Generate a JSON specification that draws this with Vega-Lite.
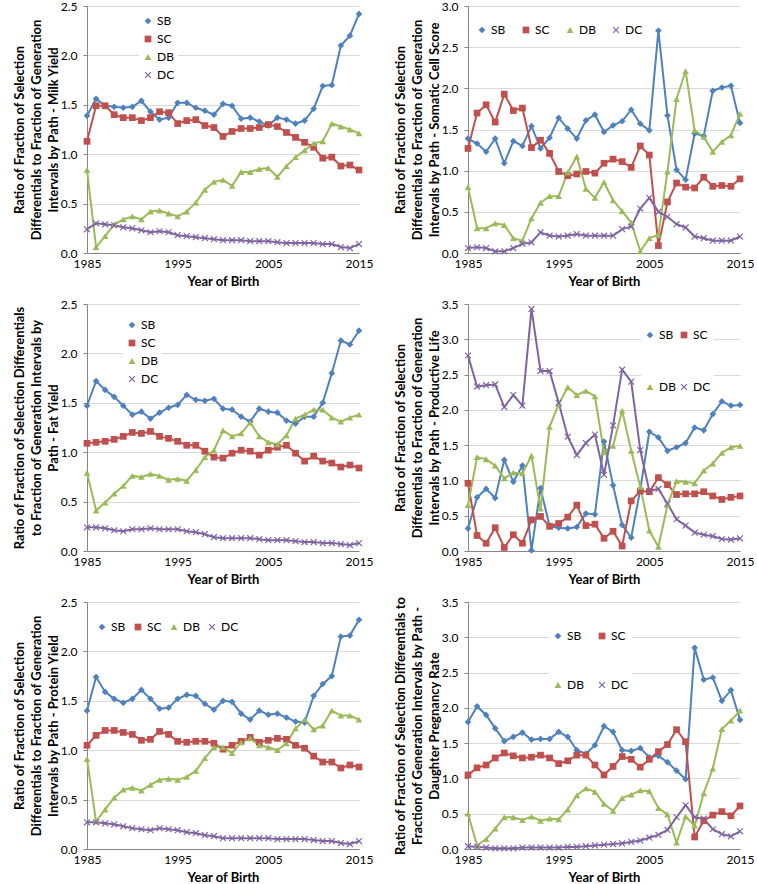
{
"$schema":"https://vega.github.io/schema/vega-lite/v6.json",
"padding":{"left":13,"top":0,"right":0,"bottom":0},
"config":{"font":"Lato","view":{"stroke":null},
"axis":{"labelFont":"Lato","labelFontSize":12,"labelColor":"#000","titleFont":"Lato","titleFontWeight":"bold","titleColor":"#000","domainColor":"#868686","tickColor":"#868686","gridColor":"#d9d9d9","labelFlush":false,"labelOverlap":false},
"axisX":{"grid":false,"ticks":false,"labelPadding":5,"titleFontSize":13,"titlePadding":6},
"axisY":{"tickSize":4,"labelPadding":6,"titleFontSize":13,"titleLineHeight":17,"titlePadding":0},
"legend":{"labelFont":"Lato","labelFontSize":12,"symbolSize":45,"fillColor":"white","padding":3,"labelOffset":3,"symbolStrokeWidth":0}},
"spacing":{"row":10,"column":21},
"columns":2,
"resolve":{"scale":{"x":"independent","y":"independent","color":"independent","shape":"independent"},"legend":{"color":"independent","shape":"independent"}},
"datasets":{
"milk":[
{"y":1985,"s":"SB","v":1.39},{"y":1986,"s":"SB","v":1.56},{"y":1987,"s":"SB","v":1.49},{"y":1988,"s":"SB","v":1.48},{"y":1989,"s":"SB","v":1.47},{"y":1990,"s":"SB","v":1.48},{"y":1991,"s":"SB","v":1.54},{"y":1992,"s":"SB","v":1.43},{"y":1993,"s":"SB","v":1.35},{"y":1994,"s":"SB","v":1.37},{"y":1995,"s":"SB","v":1.52},{"y":1996,"s":"SB","v":1.52},{"y":1997,"s":"SB","v":1.47},{"y":1998,"s":"SB","v":1.44},{"y":1999,"s":"SB","v":1.40},{"y":2000,"s":"SB","v":1.51},{"y":2001,"s":"SB","v":1.49},{"y":2002,"s":"SB","v":1.36},{"y":2003,"s":"SB","v":1.37},{"y":2004,"s":"SB","v":1.33},{"y":2005,"s":"SB","v":1.29},{"y":2006,"s":"SB","v":1.37},{"y":2007,"s":"SB","v":1.35},{"y":2008,"s":"SB","v":1.31},{"y":2009,"s":"SB","v":1.34},{"y":2010,"s":"SB","v":1.46},{"y":2011,"s":"SB","v":1.69},{"y":2012,"s":"SB","v":1.70},{"y":2013,"s":"SB","v":2.10},{"y":2014,"s":"SB","v":2.20},{"y":2015,"s":"SB","v":2.42},
{"y":1985,"s":"SC","v":1.13},{"y":1986,"s":"SC","v":1.49},{"y":1987,"s":"SC","v":1.49},{"y":1988,"s":"SC","v":1.40},{"y":1989,"s":"SC","v":1.37},{"y":1990,"s":"SC","v":1.37},{"y":1991,"s":"SC","v":1.34},{"y":1992,"s":"SC","v":1.37},{"y":1993,"s":"SC","v":1.43},{"y":1994,"s":"SC","v":1.42},{"y":1995,"s":"SC","v":1.31},{"y":1996,"s":"SC","v":1.34},{"y":1997,"s":"SC","v":1.35},{"y":1998,"s":"SC","v":1.29},{"y":1999,"s":"SC","v":1.27},{"y":2000,"s":"SC","v":1.18},{"y":2001,"s":"SC","v":1.23},{"y":2002,"s":"SC","v":1.26},{"y":2003,"s":"SC","v":1.26},{"y":2004,"s":"SC","v":1.27},{"y":2005,"s":"SC","v":1.30},{"y":2006,"s":"SC","v":1.28},{"y":2007,"s":"SC","v":1.22},{"y":2008,"s":"SC","v":1.17},{"y":2009,"s":"SC","v":1.12},{"y":2010,"s":"SC","v":1.07},{"y":2011,"s":"SC","v":0.96},{"y":2012,"s":"SC","v":0.97},{"y":2013,"s":"SC","v":0.88},{"y":2014,"s":"SC","v":0.89},{"y":2015,"s":"SC","v":0.84},
{"y":1985,"s":"DB","v":0.84},{"y":1986,"s":"DB","v":0.06},{"y":1987,"s":"DB","v":0.17},{"y":1988,"s":"DB","v":0.29},{"y":1989,"s":"DB","v":0.34},{"y":1990,"s":"DB","v":0.37},{"y":1991,"s":"DB","v":0.34},{"y":1992,"s":"DB","v":0.42},{"y":1993,"s":"DB","v":0.43},{"y":1994,"s":"DB","v":0.40},{"y":1995,"s":"DB","v":0.37},{"y":1996,"s":"DB","v":0.42},{"y":1997,"s":"DB","v":0.51},{"y":1998,"s":"DB","v":0.64},{"y":1999,"s":"DB","v":0.72},{"y":2000,"s":"DB","v":0.74},{"y":2001,"s":"DB","v":0.68},{"y":2002,"s":"DB","v":0.82},{"y":2003,"s":"DB","v":0.82},{"y":2004,"s":"DB","v":0.85},{"y":2005,"s":"DB","v":0.86},{"y":2006,"s":"DB","v":0.77},{"y":2007,"s":"DB","v":0.88},{"y":2008,"s":"DB","v":0.97},{"y":2009,"s":"DB","v":1.04},{"y":2010,"s":"DB","v":1.11},{"y":2011,"s":"DB","v":1.13},{"y":2012,"s":"DB","v":1.31},{"y":2013,"s":"DB","v":1.28},{"y":2014,"s":"DB","v":1.25},{"y":2015,"s":"DB","v":1.21},
{"y":1985,"s":"DC","v":0.24},{"y":1986,"s":"DC","v":0.30},{"y":1987,"s":"DC","v":0.29},{"y":1988,"s":"DC","v":0.28},{"y":1989,"s":"DC","v":0.26},{"y":1990,"s":"DC","v":0.25},{"y":1991,"s":"DC","v":0.23},{"y":1992,"s":"DC","v":0.21},{"y":1993,"s":"DC","v":0.22},{"y":1994,"s":"DC","v":0.21},{"y":1995,"s":"DC","v":0.18},{"y":1996,"s":"DC","v":0.17},{"y":1997,"s":"DC","v":0.16},{"y":1998,"s":"DC","v":0.15},{"y":1999,"s":"DC","v":0.14},{"y":2000,"s":"DC","v":0.13},{"y":2001,"s":"DC","v":0.13},{"y":2002,"s":"DC","v":0.13},{"y":2003,"s":"DC","v":0.12},{"y":2004,"s":"DC","v":0.12},{"y":2005,"s":"DC","v":0.12},{"y":2006,"s":"DC","v":0.11},{"y":2007,"s":"DC","v":0.10},{"y":2008,"s":"DC","v":0.10},{"y":2009,"s":"DC","v":0.10},{"y":2010,"s":"DC","v":0.10},{"y":2011,"s":"DC","v":0.09},{"y":2012,"s":"DC","v":0.09},{"y":2013,"s":"DC","v":0.06},{"y":2014,"s":"DC","v":0.05},{"y":2015,"s":"DC","v":0.09}],
"scs":[
{"y":1985,"s":"SB","v":1.39},{"y":1986,"s":"SB","v":1.33},{"y":1987,"s":"SB","v":1.23},{"y":1988,"s":"SB","v":1.39},{"y":1989,"s":"SB","v":1.09},{"y":1990,"s":"SB","v":1.36},{"y":1991,"s":"SB","v":1.30},{"y":1992,"s":"SB","v":1.54},{"y":1993,"s":"SB","v":1.27},{"y":1994,"s":"SB","v":1.40},{"y":1995,"s":"SB","v":1.64},{"y":1996,"s":"SB","v":1.51},{"y":1997,"s":"SB","v":1.39},{"y":1998,"s":"SB","v":1.61},{"y":1999,"s":"SB","v":1.68},{"y":2000,"s":"SB","v":1.47},{"y":2001,"s":"SB","v":1.55},{"y":2002,"s":"SB","v":1.60},{"y":2003,"s":"SB","v":1.74},{"y":2004,"s":"SB","v":1.57},{"y":2005,"s":"SB","v":1.49},{"y":2006,"s":"SB","v":2.70},{"y":2007,"s":"SB","v":1.67},{"y":2008,"s":"SB","v":1.01},{"y":2009,"s":"SB","v":0.89},{"y":2010,"s":"SB","v":1.45},{"y":2011,"s":"SB","v":1.42},{"y":2012,"s":"SB","v":1.97},{"y":2013,"s":"SB","v":2.01},{"y":2014,"s":"SB","v":2.03},{"y":2015,"s":"SB","v":1.58},
{"y":1985,"s":"SC","v":1.27},{"y":1986,"s":"SC","v":1.70},{"y":1987,"s":"SC","v":1.80},{"y":1988,"s":"SC","v":1.59},{"y":1989,"s":"SC","v":1.93},{"y":1990,"s":"SC","v":1.73},{"y":1991,"s":"SC","v":1.76},{"y":1992,"s":"SC","v":1.28},{"y":1993,"s":"SC","v":1.37},{"y":1994,"s":"SC","v":1.21},{"y":1995,"s":"SC","v":0.99},{"y":1996,"s":"SC","v":0.94},{"y":1997,"s":"SC","v":0.96},{"y":1998,"s":"SC","v":0.99},{"y":1999,"s":"SC","v":0.97},{"y":2000,"s":"SC","v":1.09},{"y":2001,"s":"SC","v":1.14},{"y":2002,"s":"SC","v":1.11},{"y":2003,"s":"SC","v":1.04},{"y":2004,"s":"SC","v":1.30},{"y":2005,"s":"SC","v":1.19},{"y":2006,"s":"SC","v":0.09},{"y":2007,"s":"SC","v":0.62},{"y":2008,"s":"SC","v":0.85},{"y":2009,"s":"SC","v":0.80},{"y":2010,"s":"SC","v":0.79},{"y":2011,"s":"SC","v":0.92},{"y":2012,"s":"SC","v":0.81},{"y":2013,"s":"SC","v":0.82},{"y":2014,"s":"SC","v":0.81},{"y":2015,"s":"SC","v":0.90},
{"y":1985,"s":"DB","v":0.80},{"y":1986,"s":"DB","v":0.30},{"y":1987,"s":"DB","v":0.30},{"y":1988,"s":"DB","v":0.36},{"y":1989,"s":"DB","v":0.34},{"y":1990,"s":"DB","v":0.18},{"y":1991,"s":"DB","v":0.15},{"y":1992,"s":"DB","v":0.42},{"y":1993,"s":"DB","v":0.61},{"y":1994,"s":"DB","v":0.69},{"y":1995,"s":"DB","v":0.69},{"y":1996,"s":"DB","v":0.98},{"y":1997,"s":"DB","v":1.17},{"y":1998,"s":"DB","v":0.78},{"y":1999,"s":"DB","v":0.67},{"y":2000,"s":"DB","v":0.86},{"y":2001,"s":"DB","v":0.64},{"y":2002,"s":"DB","v":0.51},{"y":2003,"s":"DB","v":0.37},{"y":2004,"s":"DB","v":0.02},{"y":2005,"s":"DB","v":0.18},{"y":2006,"s":"DB","v":0.22},{"y":2007,"s":"DB","v":0.99},{"y":2008,"s":"DB","v":1.87},{"y":2009,"s":"DB","v":2.21},{"y":2010,"s":"DB","v":1.49},{"y":2011,"s":"DB","v":1.41},{"y":2012,"s":"DB","v":1.23},{"y":2013,"s":"DB","v":1.35},{"y":2014,"s":"DB","v":1.43},{"y":2015,"s":"DB","v":1.69},
{"y":1985,"s":"DC","v":0.06},{"y":1986,"s":"DC","v":0.07},{"y":1987,"s":"DC","v":0.06},{"y":1988,"s":"DC","v":0.02},{"y":1989,"s":"DC","v":0.02},{"y":1990,"s":"DC","v":0.06},{"y":1991,"s":"DC","v":0.11},{"y":1992,"s":"DC","v":0.13},{"y":1993,"s":"DC","v":0.25},{"y":1994,"s":"DC","v":0.21},{"y":1995,"s":"DC","v":0.20},{"y":1996,"s":"DC","v":0.21},{"y":1997,"s":"DC","v":0.23},{"y":1998,"s":"DC","v":0.21},{"y":1999,"s":"DC","v":0.21},{"y":2000,"s":"DC","v":0.21},{"y":2001,"s":"DC","v":0.21},{"y":2002,"s":"DC","v":0.29},{"y":2003,"s":"DC","v":0.32},{"y":2004,"s":"DC","v":0.54},{"y":2005,"s":"DC","v":0.67},{"y":2006,"s":"DC","v":0.50},{"y":2007,"s":"DC","v":0.44},{"y":2008,"s":"DC","v":0.35},{"y":2009,"s":"DC","v":0.31},{"y":2010,"s":"DC","v":0.20},{"y":2011,"s":"DC","v":0.18},{"y":2012,"s":"DC","v":0.15},{"y":2013,"s":"DC","v":0.15},{"y":2014,"s":"DC","v":0.15},{"y":2015,"s":"DC","v":0.20}],
"fat":[
{"y":1985,"s":"SB","v":1.47},{"y":1986,"s":"SB","v":1.72},{"y":1987,"s":"SB","v":1.63},{"y":1988,"s":"SB","v":1.56},{"y":1989,"s":"SB","v":1.47},{"y":1990,"s":"SB","v":1.38},{"y":1991,"s":"SB","v":1.41},{"y":1992,"s":"SB","v":1.34},{"y":1993,"s":"SB","v":1.40},{"y":1994,"s":"SB","v":1.45},{"y":1995,"s":"SB","v":1.48},{"y":1996,"s":"SB","v":1.58},{"y":1997,"s":"SB","v":1.53},{"y":1998,"s":"SB","v":1.52},{"y":1999,"s":"SB","v":1.54},{"y":2000,"s":"SB","v":1.44},{"y":2001,"s":"SB","v":1.43},{"y":2002,"s":"SB","v":1.36},{"y":2003,"s":"SB","v":1.31},{"y":2004,"s":"SB","v":1.44},{"y":2005,"s":"SB","v":1.41},{"y":2006,"s":"SB","v":1.40},{"y":2007,"s":"SB","v":1.32},{"y":2008,"s":"SB","v":1.29},{"y":2009,"s":"SB","v":1.36},{"y":2010,"s":"SB","v":1.36},{"y":2011,"s":"SB","v":1.50},{"y":2012,"s":"SB","v":1.80},{"y":2013,"s":"SB","v":2.13},{"y":2014,"s":"SB","v":2.09},{"y":2015,"s":"SB","v":2.23},
{"y":1985,"s":"SC","v":1.09},{"y":1986,"s":"SC","v":1.10},{"y":1987,"s":"SC","v":1.11},{"y":1988,"s":"SC","v":1.13},{"y":1989,"s":"SC","v":1.16},{"y":1990,"s":"SC","v":1.20},{"y":1991,"s":"SC","v":1.19},{"y":1992,"s":"SC","v":1.21},{"y":1993,"s":"SC","v":1.16},{"y":1994,"s":"SC","v":1.14},{"y":1995,"s":"SC","v":1.11},{"y":1996,"s":"SC","v":1.07},{"y":1997,"s":"SC","v":1.07},{"y":1998,"s":"SC","v":1.01},{"y":1999,"s":"SC","v":0.95},{"y":2000,"s":"SC","v":0.94},{"y":2001,"s":"SC","v":0.99},{"y":2002,"s":"SC","v":1.02},{"y":2003,"s":"SC","v":1.01},{"y":2004,"s":"SC","v":0.97},{"y":2005,"s":"SC","v":1.02},{"y":2006,"s":"SC","v":1.05},{"y":2007,"s":"SC","v":1.07},{"y":2008,"s":"SC","v":0.99},{"y":2009,"s":"SC","v":0.91},{"y":2010,"s":"SC","v":0.96},{"y":2011,"s":"SC","v":0.91},{"y":2012,"s":"SC","v":0.89},{"y":2013,"s":"SC","v":0.85},{"y":2014,"s":"SC","v":0.87},{"y":2015,"s":"SC","v":0.84},
{"y":1985,"s":"DB","v":0.79},{"y":1986,"s":"DB","v":0.41},{"y":1987,"s":"DB","v":0.49},{"y":1988,"s":"DB","v":0.58},{"y":1989,"s":"DB","v":0.66},{"y":1990,"s":"DB","v":0.76},{"y":1991,"s":"DB","v":0.75},{"y":1992,"s":"DB","v":0.78},{"y":1993,"s":"DB","v":0.76},{"y":1994,"s":"DB","v":0.72},{"y":1995,"s":"DB","v":0.73},{"y":1996,"s":"DB","v":0.71},{"y":1997,"s":"DB","v":0.82},{"y":1998,"s":"DB","v":0.95},{"y":1999,"s":"DB","v":1.02},{"y":2000,"s":"DB","v":1.22},{"y":2001,"s":"DB","v":1.16},{"y":2002,"s":"DB","v":1.19},{"y":2003,"s":"DB","v":1.30},{"y":2004,"s":"DB","v":1.16},{"y":2005,"s":"DB","v":1.10},{"y":2006,"s":"DB","v":1.08},{"y":2007,"s":"DB","v":1.17},{"y":2008,"s":"DB","v":1.34},{"y":2009,"s":"DB","v":1.38},{"y":2010,"s":"DB","v":1.43},{"y":2011,"s":"DB","v":1.43},{"y":2012,"s":"DB","v":1.35},{"y":2013,"s":"DB","v":1.31},{"y":2014,"s":"DB","v":1.35},{"y":2015,"s":"DB","v":1.38},
{"y":1985,"s":"DC","v":0.24},{"y":1986,"s":"DC","v":0.24},{"y":1987,"s":"DC","v":0.23},{"y":1988,"s":"DC","v":0.21},{"y":1989,"s":"DC","v":0.20},{"y":1990,"s":"DC","v":0.22},{"y":1991,"s":"DC","v":0.22},{"y":1992,"s":"DC","v":0.23},{"y":1993,"s":"DC","v":0.22},{"y":1994,"s":"DC","v":0.22},{"y":1995,"s":"DC","v":0.22},{"y":1996,"s":"DC","v":0.20},{"y":1997,"s":"DC","v":0.19},{"y":1998,"s":"DC","v":0.17},{"y":1999,"s":"DC","v":0.14},{"y":2000,"s":"DC","v":0.13},{"y":2001,"s":"DC","v":0.13},{"y":2002,"s":"DC","v":0.13},{"y":2003,"s":"DC","v":0.13},{"y":2004,"s":"DC","v":0.12},{"y":2005,"s":"DC","v":0.11},{"y":2006,"s":"DC","v":0.11},{"y":2007,"s":"DC","v":0.11},{"y":2008,"s":"DC","v":0.10},{"y":2009,"s":"DC","v":0.09},{"y":2010,"s":"DC","v":0.09},{"y":2011,"s":"DC","v":0.08},{"y":2012,"s":"DC","v":0.08},{"y":2013,"s":"DC","v":0.07},{"y":2014,"s":"DC","v":0.06},{"y":2015,"s":"DC","v":0.08}],
"pl":[
{"y":1985,"s":"SB","v":0.32},{"y":1986,"s":"SB","v":0.76},{"y":1987,"s":"SB","v":0.88},{"y":1988,"s":"SB","v":0.75},{"y":1989,"s":"SB","v":1.29},{"y":1990,"s":"SB","v":0.98},{"y":1991,"s":"SB","v":1.21},{"y":1992,"s":"SB","v":0.01},{"y":1993,"s":"SB","v":0.89},{"y":1994,"s":"SB","v":0.35},{"y":1995,"s":"SB","v":0.33},{"y":1996,"s":"SB","v":0.32},{"y":1997,"s":"SB","v":0.34},{"y":1998,"s":"SB","v":0.53},{"y":1999,"s":"SB","v":0.52},{"y":2000,"s":"SB","v":1.55},{"y":2001,"s":"SB","v":0.93},{"y":2002,"s":"SB","v":0.37},{"y":2003,"s":"SB","v":0.19},{"y":2004,"s":"SB","v":0.87},{"y":2005,"s":"SB","v":1.69},{"y":2006,"s":"SB","v":1.61},{"y":2007,"s":"SB","v":1.42},{"y":2008,"s":"SB","v":1.47},{"y":2009,"s":"SB","v":1.53},{"y":2010,"s":"SB","v":1.75},{"y":2011,"s":"SB","v":1.71},{"y":2012,"s":"SB","v":1.94},{"y":2013,"s":"SB","v":2.12},{"y":2014,"s":"SB","v":2.06},{"y":2015,"s":"SB","v":2.07},
{"y":1985,"s":"SC","v":0.96},{"y":1986,"s":"SC","v":0.22},{"y":1987,"s":"SC","v":0.11},{"y":1988,"s":"SC","v":0.33},{"y":1989,"s":"SC","v":0.05},{"y":1990,"s":"SC","v":0.23},{"y":1991,"s":"SC","v":0.11},{"y":1992,"s":"SC","v":0.44},{"y":1993,"s":"SC","v":0.49},{"y":1994,"s":"SC","v":0.35},{"y":1995,"s":"SC","v":0.39},{"y":1996,"s":"SC","v":0.48},{"y":1997,"s":"SC","v":0.65},{"y":1998,"s":"SC","v":0.36},{"y":1999,"s":"SC","v":0.38},{"y":2000,"s":"SC","v":0.18},{"y":2001,"s":"SC","v":0.28},{"y":2002,"s":"SC","v":0.07},{"y":2003,"s":"SC","v":0.71},{"y":2004,"s":"SC","v":0.85},{"y":2005,"s":"SC","v":0.84},{"y":2006,"s":"SC","v":1.04},{"y":2007,"s":"SC","v":0.94},{"y":2008,"s":"SC","v":0.80},{"y":2009,"s":"SC","v":0.81},{"y":2010,"s":"SC","v":0.81},{"y":2011,"s":"SC","v":0.84},{"y":2012,"s":"SC","v":0.78},{"y":2013,"s":"SC","v":0.73},{"y":2014,"s":"SC","v":0.76},{"y":2015,"s":"SC","v":0.78},
{"y":1985,"s":"DB","v":0.65},{"y":1986,"s":"DB","v":1.33},{"y":1987,"s":"DB","v":1.30},{"y":1988,"s":"DB","v":1.21},{"y":1989,"s":"DB","v":1.03},{"y":1990,"s":"DB","v":1.11},{"y":1991,"s":"DB","v":1.10},{"y":1992,"s":"DB","v":1.35},{"y":1993,"s":"DB","v":0.60},{"y":1994,"s":"DB","v":1.76},{"y":1995,"s":"DB","v":2.08},{"y":1996,"s":"DB","v":2.32},{"y":1997,"s":"DB","v":2.21},{"y":1998,"s":"DB","v":2.27},{"y":1999,"s":"DB","v":2.19},{"y":2000,"s":"DB","v":1.40},{"y":2001,"s":"DB","v":1.49},{"y":2002,"s":"DB","v":1.99},{"y":2003,"s":"DB","v":1.42},{"y":2004,"s":"DB","v":0.91},{"y":2005,"s":"DB","v":0.29},{"y":2006,"s":"DB","v":0.06},{"y":2007,"s":"DB","v":0.65},{"y":2008,"s":"DB","v":0.99},{"y":2009,"s":"DB","v":0.98},{"y":2010,"s":"DB","v":0.96},{"y":2011,"s":"DB","v":1.14},{"y":2012,"s":"DB","v":1.24},{"y":2013,"s":"DB","v":1.39},{"y":2014,"s":"DB","v":1.47},{"y":2015,"s":"DB","v":1.49},
{"y":1985,"s":"DC","v":2.77},{"y":1986,"s":"DC","v":2.33},{"y":1987,"s":"DC","v":2.35},{"y":1988,"s":"DC","v":2.36},{"y":1989,"s":"DC","v":2.04},{"y":1990,"s":"DC","v":2.21},{"y":1991,"s":"DC","v":2.06},{"y":1992,"s":"DC","v":3.43},{"y":1993,"s":"DC","v":2.55},{"y":1994,"s":"DC","v":2.55},{"y":1995,"s":"DC","v":2.10},{"y":1996,"s":"DC","v":1.62},{"y":1997,"s":"DC","v":1.36},{"y":1998,"s":"DC","v":1.53},{"y":1999,"s":"DC","v":1.65},{"y":2000,"s":"DC","v":1.08},{"y":2001,"s":"DC","v":1.78},{"y":2002,"s":"DC","v":2.57},{"y":2003,"s":"DC","v":2.40},{"y":2004,"s":"DC","v":1.43},{"y":2005,"s":"DC","v":0.85},{"y":2006,"s":"DC","v":0.88},{"y":2007,"s":"DC","v":0.67},{"y":2008,"s":"DC","v":0.45},{"y":2009,"s":"DC","v":0.36},{"y":2010,"s":"DC","v":0.26},{"y":2011,"s":"DC","v":0.23},{"y":2012,"s":"DC","v":0.21},{"y":2013,"s":"DC","v":0.17},{"y":2014,"s":"DC","v":0.16},{"y":2015,"s":"DC","v":0.18}],
"prot":[
{"y":1985,"s":"SB","v":1.40},{"y":1986,"s":"SB","v":1.74},{"y":1987,"s":"SB","v":1.59},{"y":1988,"s":"SB","v":1.52},{"y":1989,"s":"SB","v":1.48},{"y":1990,"s":"SB","v":1.52},{"y":1991,"s":"SB","v":1.61},{"y":1992,"s":"SB","v":1.52},{"y":1993,"s":"SB","v":1.42},{"y":1994,"s":"SB","v":1.43},{"y":1995,"s":"SB","v":1.52},{"y":1996,"s":"SB","v":1.56},{"y":1997,"s":"SB","v":1.55},{"y":1998,"s":"SB","v":1.47},{"y":1999,"s":"SB","v":1.41},{"y":2000,"s":"SB","v":1.50},{"y":2001,"s":"SB","v":1.49},{"y":2002,"s":"SB","v":1.37},{"y":2003,"s":"SB","v":1.31},{"y":2004,"s":"SB","v":1.40},{"y":2005,"s":"SB","v":1.36},{"y":2006,"s":"SB","v":1.37},{"y":2007,"s":"SB","v":1.33},{"y":2008,"s":"SB","v":1.29},{"y":2009,"s":"SB","v":1.28},{"y":2010,"s":"SB","v":1.55},{"y":2011,"s":"SB","v":1.67},{"y":2012,"s":"SB","v":1.75},{"y":2013,"s":"SB","v":2.15},{"y":2014,"s":"SB","v":2.16},{"y":2015,"s":"SB","v":2.32},
{"y":1985,"s":"SC","v":1.05},{"y":1986,"s":"SC","v":1.15},{"y":1987,"s":"SC","v":1.20},{"y":1988,"s":"SC","v":1.20},{"y":1989,"s":"SC","v":1.18},{"y":1990,"s":"SC","v":1.16},{"y":1991,"s":"SC","v":1.10},{"y":1992,"s":"SC","v":1.11},{"y":1993,"s":"SC","v":1.19},{"y":1994,"s":"SC","v":1.16},{"y":1995,"s":"SC","v":1.09},{"y":1996,"s":"SC","v":1.08},{"y":1997,"s":"SC","v":1.09},{"y":1998,"s":"SC","v":1.09},{"y":1999,"s":"SC","v":1.07},{"y":2000,"s":"SC","v":1.01},{"y":2001,"s":"SC","v":1.05},{"y":2002,"s":"SC","v":1.09},{"y":2003,"s":"SC","v":1.13},{"y":2004,"s":"SC","v":1.08},{"y":2005,"s":"SC","v":1.10},{"y":2006,"s":"SC","v":1.12},{"y":2007,"s":"SC","v":1.11},{"y":2008,"s":"SC","v":1.05},{"y":2009,"s":"SC","v":1.02},{"y":2010,"s":"SC","v":0.94},{"y":2011,"s":"SC","v":0.88},{"y":2012,"s":"SC","v":0.88},{"y":2013,"s":"SC","v":0.82},{"y":2014,"s":"SC","v":0.85},{"y":2015,"s":"SC","v":0.83},
{"y":1985,"s":"DB","v":0.91},{"y":1986,"s":"DB","v":0.28},{"y":1987,"s":"DB","v":0.40},{"y":1988,"s":"DB","v":0.52},{"y":1989,"s":"DB","v":0.60},{"y":1990,"s":"DB","v":0.62},{"y":1991,"s":"DB","v":0.59},{"y":1992,"s":"DB","v":0.65},{"y":1993,"s":"DB","v":0.70},{"y":1994,"s":"DB","v":0.71},{"y":1995,"s":"DB","v":0.70},{"y":1996,"s":"DB","v":0.73},{"y":1997,"s":"DB","v":0.79},{"y":1998,"s":"DB","v":0.92},{"y":1999,"s":"DB","v":1.03},{"y":2000,"s":"DB","v":1.03},{"y":2001,"s":"DB","v":0.97},{"y":2002,"s":"DB","v":1.08},{"y":2003,"s":"DB","v":1.12},{"y":2004,"s":"DB","v":1.05},{"y":2005,"s":"DB","v":1.03},{"y":2006,"s":"DB","v":1.00},{"y":2007,"s":"DB","v":1.07},{"y":2008,"s":"DB","v":1.22},{"y":2009,"s":"DB","v":1.31},{"y":2010,"s":"DB","v":1.21},{"y":2011,"s":"DB","v":1.25},{"y":2012,"s":"DB","v":1.40},{"y":2013,"s":"DB","v":1.35},{"y":2014,"s":"DB","v":1.35},{"y":2015,"s":"DB","v":1.31},
{"y":1985,"s":"DC","v":0.27},{"y":1986,"s":"DC","v":0.27},{"y":1987,"s":"DC","v":0.26},{"y":1988,"s":"DC","v":0.25},{"y":1989,"s":"DC","v":0.23},{"y":1990,"s":"DC","v":0.21},{"y":1991,"s":"DC","v":0.20},{"y":1992,"s":"DC","v":0.19},{"y":1993,"s":"DC","v":0.21},{"y":1994,"s":"DC","v":0.20},{"y":1995,"s":"DC","v":0.19},{"y":1996,"s":"DC","v":0.17},{"y":1997,"s":"DC","v":0.16},{"y":1998,"s":"DC","v":0.14},{"y":1999,"s":"DC","v":0.13},{"y":2000,"s":"DC","v":0.11},{"y":2001,"s":"DC","v":0.11},{"y":2002,"s":"DC","v":0.11},{"y":2003,"s":"DC","v":0.11},{"y":2004,"s":"DC","v":0.11},{"y":2005,"s":"DC","v":0.11},{"y":2006,"s":"DC","v":0.10},{"y":2007,"s":"DC","v":0.10},{"y":2008,"s":"DC","v":0.10},{"y":2009,"s":"DC","v":0.10},{"y":2010,"s":"DC","v":0.09},{"y":2011,"s":"DC","v":0.08},{"y":2012,"s":"DC","v":0.08},{"y":2013,"s":"DC","v":0.06},{"y":2014,"s":"DC","v":0.05},{"y":2015,"s":"DC","v":0.08}],
"dpr":[
{"y":1985,"s":"SB","v":1.80},{"y":1986,"s":"SB","v":2.02},{"y":1987,"s":"SB","v":1.90},{"y":1988,"s":"SB","v":1.71},{"y":1989,"s":"SB","v":1.53},{"y":1990,"s":"SB","v":1.59},{"y":1991,"s":"SB","v":1.65},{"y":1992,"s":"SB","v":1.55},{"y":1993,"s":"SB","v":1.56},{"y":1994,"s":"SB","v":1.56},{"y":1995,"s":"SB","v":1.66},{"y":1996,"s":"SB","v":1.59},{"y":1997,"s":"SB","v":1.40},{"y":1998,"s":"SB","v":1.35},{"y":1999,"s":"SB","v":1.47},{"y":2000,"s":"SB","v":1.74},{"y":2001,"s":"SB","v":1.66},{"y":2002,"s":"SB","v":1.40},{"y":2003,"s":"SB","v":1.39},{"y":2004,"s":"SB","v":1.43},{"y":2005,"s":"SB","v":1.30},{"y":2006,"s":"SB","v":1.32},{"y":2007,"s":"SB","v":1.23},{"y":2008,"s":"SB","v":1.11},{"y":2009,"s":"SB","v":0.99},{"y":2010,"s":"SB","v":2.85},{"y":2011,"s":"SB","v":2.40},{"y":2012,"s":"SB","v":2.43},{"y":2013,"s":"SB","v":2.10},{"y":2014,"s":"SB","v":2.25},{"y":2015,"s":"SB","v":1.83},
{"y":1985,"s":"SC","v":1.05},{"y":1986,"s":"SC","v":1.15},{"y":1987,"s":"SC","v":1.19},{"y":1988,"s":"SC","v":1.29},{"y":1989,"s":"SC","v":1.36},{"y":1990,"s":"SC","v":1.32},{"y":1991,"s":"SC","v":1.29},{"y":1992,"s":"SC","v":1.30},{"y":1993,"s":"SC","v":1.33},{"y":1994,"s":"SC","v":1.29},{"y":1995,"s":"SC","v":1.21},{"y":1996,"s":"SC","v":1.25},{"y":1997,"s":"SC","v":1.33},{"y":1998,"s":"SC","v":1.33},{"y":1999,"s":"SC","v":1.19},{"y":2000,"s":"SC","v":1.05},{"y":2001,"s":"SC","v":1.17},{"y":2002,"s":"SC","v":1.31},{"y":2003,"s":"SC","v":1.27},{"y":2004,"s":"SC","v":1.16},{"y":2005,"s":"SC","v":1.27},{"y":2006,"s":"SC","v":1.38},{"y":2007,"s":"SC","v":1.48},{"y":2008,"s":"SC","v":1.69},{"y":2009,"s":"SC","v":1.52},{"y":2010,"s":"SC","v":0.17},{"y":2011,"s":"SC","v":0.40},{"y":2012,"s":"SC","v":0.48},{"y":2013,"s":"SC","v":0.53},{"y":2014,"s":"SC","v":0.47},{"y":2015,"s":"SC","v":0.61},
{"y":1985,"s":"DB","v":0.50},{"y":1986,"s":"DB","v":0.05},{"y":1987,"s":"DB","v":0.14},{"y":1988,"s":"DB","v":0.29},{"y":1989,"s":"DB","v":0.45},{"y":1990,"s":"DB","v":0.45},{"y":1991,"s":"DB","v":0.41},{"y":1992,"s":"DB","v":0.46},{"y":1993,"s":"DB","v":0.40},{"y":1994,"s":"DB","v":0.43},{"y":1995,"s":"DB","v":0.42},{"y":1996,"s":"DB","v":0.56},{"y":1997,"s":"DB","v":0.76},{"y":1998,"s":"DB","v":0.86},{"y":1999,"s":"DB","v":0.81},{"y":2000,"s":"DB","v":0.64},{"y":2001,"s":"DB","v":0.54},{"y":2002,"s":"DB","v":0.72},{"y":2003,"s":"DB","v":0.77},{"y":2004,"s":"DB","v":0.83},{"y":2005,"s":"DB","v":0.82},{"y":2006,"s":"DB","v":0.58},{"y":2007,"s":"DB","v":0.49},{"y":2008,"s":"DB","v":0.09},{"y":2009,"s":"DB","v":0.46},{"y":2010,"s":"DB","v":0.33},{"y":2011,"s":"DB","v":0.79},{"y":2012,"s":"DB","v":1.14},{"y":2013,"s":"DB","v":1.70},{"y":2014,"s":"DB","v":1.82},{"y":2015,"s":"DB","v":1.96},
{"y":1985,"s":"DC","v":0.04},{"y":1986,"s":"DC","v":0.03},{"y":1987,"s":"DC","v":0.02},{"y":1988,"s":"DC","v":0.01},{"y":1989,"s":"DC","v":0.01},{"y":1990,"s":"DC","v":0.01},{"y":1991,"s":"DC","v":0.02},{"y":1992,"s":"DC","v":0.02},{"y":1993,"s":"DC","v":0.02},{"y":1994,"s":"DC","v":0.02},{"y":1995,"s":"DC","v":0.02},{"y":1996,"s":"DC","v":0.03},{"y":1997,"s":"DC","v":0.03},{"y":1998,"s":"DC","v":0.04},{"y":1999,"s":"DC","v":0.05},{"y":2000,"s":"DC","v":0.06},{"y":2001,"s":"DC","v":0.07},{"y":2002,"s":"DC","v":0.08},{"y":2003,"s":"DC","v":0.10},{"y":2004,"s":"DC","v":0.12},{"y":2005,"s":"DC","v":0.16},{"y":2006,"s":"DC","v":0.20},{"y":2007,"s":"DC","v":0.27},{"y":2008,"s":"DC","v":0.45},{"y":2009,"s":"DC","v":0.62},{"y":2010,"s":"DC","v":0.45},{"y":2011,"s":"DC","v":0.43},{"y":2012,"s":"DC","v":0.28},{"y":2013,"s":"DC","v":0.21},{"y":2014,"s":"DC","v":0.18},{"y":2015,"s":"DC","v":0.25}]
},
"concat":[
{"data":{"name":"milk"},"width":272,"height":247,
"encoding":{"x":{"field":"y","type":"quantitative","scale":{"domain":[1985,2015],"nice":false,"zero":false},"axis":{"values":[1985,1995,2005,2015],"format":"d","title":"Year of Birth"}},
"y":{"field":"v","type":"quantitative","scale":{"domain":[0,2.5],"nice":false},"axis":{"values":[0,0.5,1,1.5,2,2.5],"format":".1f","title":["Ratio of Fraction of Selection","Differentials to Fraction of Generation","Intervals by Path - Milk Yield"]}},
"color":{"field":"s","type":"nominal","scale":{"domain":["SB","SC","DB","DC"],"range":["#4F81BD","#C0504D","#9BBB59","#8064A2"]},"legend":{"title":null,"orient":"none","legendX":52,"legendY":6,"direction":"vertical","rowPadding":6}}},
"layer":[{"mark":{"type":"line","strokeWidth":2}},
{"mark":{"type":"point","filled":true,"size":45,"opacity":1},"encoding":{"shape":{"field":"s","type":"nominal","scale":{"domain":["SB","SC","DB","DC"],"range":["diamond","square","triangle-up","M-1,-0.75L-0.75,-1L0,-0.25L0.75,-1L1,-0.75L0.25,0L1,0.75L0.75,1L0,0.25L-0.75,1L-1,0.75L-0.25,0Z"]},"legend":{"title":null,"orient":"none","legendX":52,"legendY":6,"direction":"vertical","rowPadding":6}}}}]},
{"data":{"name":"scs"},"width":272,"height":247,
"encoding":{"x":{"field":"y","type":"quantitative","scale":{"domain":[1985,2015],"nice":false,"zero":false},"axis":{"values":[1985,1995,2005,2015],"format":"d","title":"Year of Birth"}},
"y":{"field":"v","type":"quantitative","scale":{"domain":[0,3],"nice":false},"axis":{"values":[0,0.5,1,1.5,2,2.5,3],"format":".1f","title":["Ratio of Fraction of Selection","Differentials to Fraction of Generation","Intervals by Path - Somatic Cell Score"]}},
"color":{"field":"s","type":"nominal","scale":{"domain":["SB","SC","DB","DC"],"range":["#4F81BD","#C0504D","#9BBB59","#8064A2"]},"legend":{"title":null,"orient":"none","legendX":5,"legendY":15,"direction":"horizontal","columns":4,"columnPadding":14}}},
"layer":[{"mark":{"type":"line","strokeWidth":2}},
{"mark":{"type":"point","filled":true,"size":45,"opacity":1},"encoding":{"shape":{"field":"s","type":"nominal","scale":{"domain":["SB","SC","DB","DC"],"range":["diamond","square","triangle-up","M-1,-0.75L-0.75,-1L0,-0.25L0.75,-1L1,-0.75L0.25,0L1,0.75L0.75,1L0,0.25L-0.75,1L-1,0.75L-0.25,0Z"]},"legend":{"title":null,"orient":"none","legendX":5,"legendY":15,"direction":"horizontal","columns":4,"columnPadding":14}}}}]},
{"data":{"name":"fat"},"width":272,"height":247,
"encoding":{"x":{"field":"y","type":"quantitative","scale":{"domain":[1985,2015],"nice":false,"zero":false},"axis":{"values":[1985,1995,2005,2015],"format":"d","title":"Year of Birth"}},
"y":{"field":"v","type":"quantitative","scale":{"domain":[0,2.5],"nice":false},"axis":{"values":[0,0.5,1,1.5,2,2.5],"format":".1f","title":["Ratio of Fraction of Selection Differentials","to Fraction of Generation Intervals by","Path - Fat Yield"]}},
"color":{"field":"s","type":"nominal","scale":{"domain":["SB","SC","DB","DC"],"range":["#4F81BD","#C0504D","#9BBB59","#8064A2"]},"legend":{"title":null,"orient":"none","legendX":36,"legendY":12,"direction":"vertical","rowPadding":6}}},
"layer":[{"mark":{"type":"line","strokeWidth":2}},
{"mark":{"type":"point","filled":true,"size":45,"opacity":1},"encoding":{"shape":{"field":"s","type":"nominal","scale":{"domain":["SB","SC","DB","DC"],"range":["diamond","square","triangle-up","M-1,-0.75L-0.75,-1L0,-0.25L0.75,-1L1,-0.75L0.25,0L1,0.75L0.75,1L0,0.25L-0.75,1L-1,0.75L-0.25,0Z"]},"legend":{"title":null,"orient":"none","legendX":36,"legendY":12,"direction":"vertical","rowPadding":6}}}}]},
{"data":{"name":"pl"},"width":272,"height":247,
"encoding":{"x":{"field":"y","type":"quantitative","scale":{"domain":[1985,2015],"nice":false,"zero":false},"axis":{"values":[1985,1995,2005,2015],"format":"d","title":"Year of Birth"}},
"y":{"field":"v","type":"quantitative","scale":{"domain":[0,3.5],"nice":false},"axis":{"values":[0,0.5,1,1.5,2,2.5,3,3.5],"format":".1f","title":["Ratio of Fraction of Selection","Differentials to Fraction of Generation","Intervals by Path - Productive Life"]}},
"color":{"field":"s","type":"nominal","scale":{"domain":["SB","SC","DB","DC"],"range":["#4F81BD","#C0504D","#9BBB59","#8064A2"]},"legend":{"title":null,"orient":"none","legendX":173,"legendY":22,"direction":"horizontal","columns":2,"columnPadding":2,"rowPadding":40}}},
"layer":[{"mark":{"type":"line","strokeWidth":2}},
{"mark":{"type":"point","filled":true,"size":45,"opacity":1},"encoding":{"shape":{"field":"s","type":"nominal","scale":{"domain":["SB","SC","DB","DC"],"range":["diamond","square","triangle-up","M-1,-0.75L-0.75,-1L0,-0.25L0.75,-1L1,-0.75L0.25,0L1,0.75L0.75,1L0,0.25L-0.75,1L-1,0.75L-0.25,0Z"]},"legend":{"title":null,"orient":"none","legendX":173,"legendY":22,"direction":"horizontal","columns":2,"columnPadding":2,"rowPadding":40}}}}]},
{"data":{"name":"prot"},"width":272,"height":247,
"encoding":{"x":{"field":"y","type":"quantitative","scale":{"domain":[1985,2015],"nice":false,"zero":false},"axis":{"values":[1985,1995,2005,2015],"format":"d","title":"Year of Birth"}},
"y":{"field":"v","type":"quantitative","scale":{"domain":[0,2.5],"nice":false},"axis":{"values":[0,0.5,1,1.5,2,2.5],"format":".1f","title":["Ratio of Fraction of Selection","Differentials to Fraction of Generation","Intervals by Path - Protein Yield"]}},
"color":{"field":"s","type":"nominal","scale":{"domain":["SB","SC","DB","DC"],"range":["#4F81BD","#C0504D","#9BBB59","#8064A2"]},"legend":{"title":null,"orient":"none","legendX":6,"legendY":16,"direction":"horizontal","columns":4,"columnPadding":6}}},
"layer":[{"mark":{"type":"line","strokeWidth":2}},
{"mark":{"type":"point","filled":true,"size":45,"opacity":1},"encoding":{"shape":{"field":"s","type":"nominal","scale":{"domain":["SB","SC","DB","DC"],"range":["diamond","square","triangle-up","M-1,-0.75L-0.75,-1L0,-0.25L0.75,-1L1,-0.75L0.25,0L1,0.75L0.75,1L0,0.25L-0.75,1L-1,0.75L-0.25,0Z"]},"legend":{"title":null,"orient":"none","legendX":6,"legendY":16,"direction":"horizontal","columns":4,"columnPadding":6}}}}]},
{"data":{"name":"dpr"},"width":272,"height":247,
"encoding":{"x":{"field":"y","type":"quantitative","scale":{"domain":[1985,2015],"nice":false,"zero":false},"axis":{"values":[1985,1995,2005,2015],"format":"d","title":"Year of Birth"}},
"y":{"field":"v","type":"quantitative","scale":{"domain":[0,3.5],"nice":false},"axis":{"values":[0,0.5,1,1.5,2,2.5,3,3.5],"format":".1f","title":["Ratio of Fraction of Selection Differentials to","Fraction of Generation Intervals by Path -","Daughter Pregnancy Rate"]}},
"color":{"field":"s","type":"nominal","scale":{"domain":["SB","SC","DB","DC"],"range":["#4F81BD","#C0504D","#9BBB59","#8064A2"]},"legend":{"title":null,"orient":"none","legendX":81,"legendY":25,"direction":"horizontal","columns":2,"columnPadding":12,"rowPadding":37}}},
"layer":[{"mark":{"type":"line","strokeWidth":2}},
{"mark":{"type":"point","filled":true,"size":45,"opacity":1},"encoding":{"shape":{"field":"s","type":"nominal","scale":{"domain":["SB","SC","DB","DC"],"range":["diamond","square","triangle-up","M-1,-0.75L-0.75,-1L0,-0.25L0.75,-1L1,-0.75L0.25,0L1,0.75L0.75,1L0,0.25L-0.75,1L-1,0.75L-0.25,0Z"]},"legend":{"title":null,"orient":"none","legendX":81,"legendY":25,"direction":"horizontal","columns":2,"columnPadding":12,"rowPadding":37}}}}]}
]
}
